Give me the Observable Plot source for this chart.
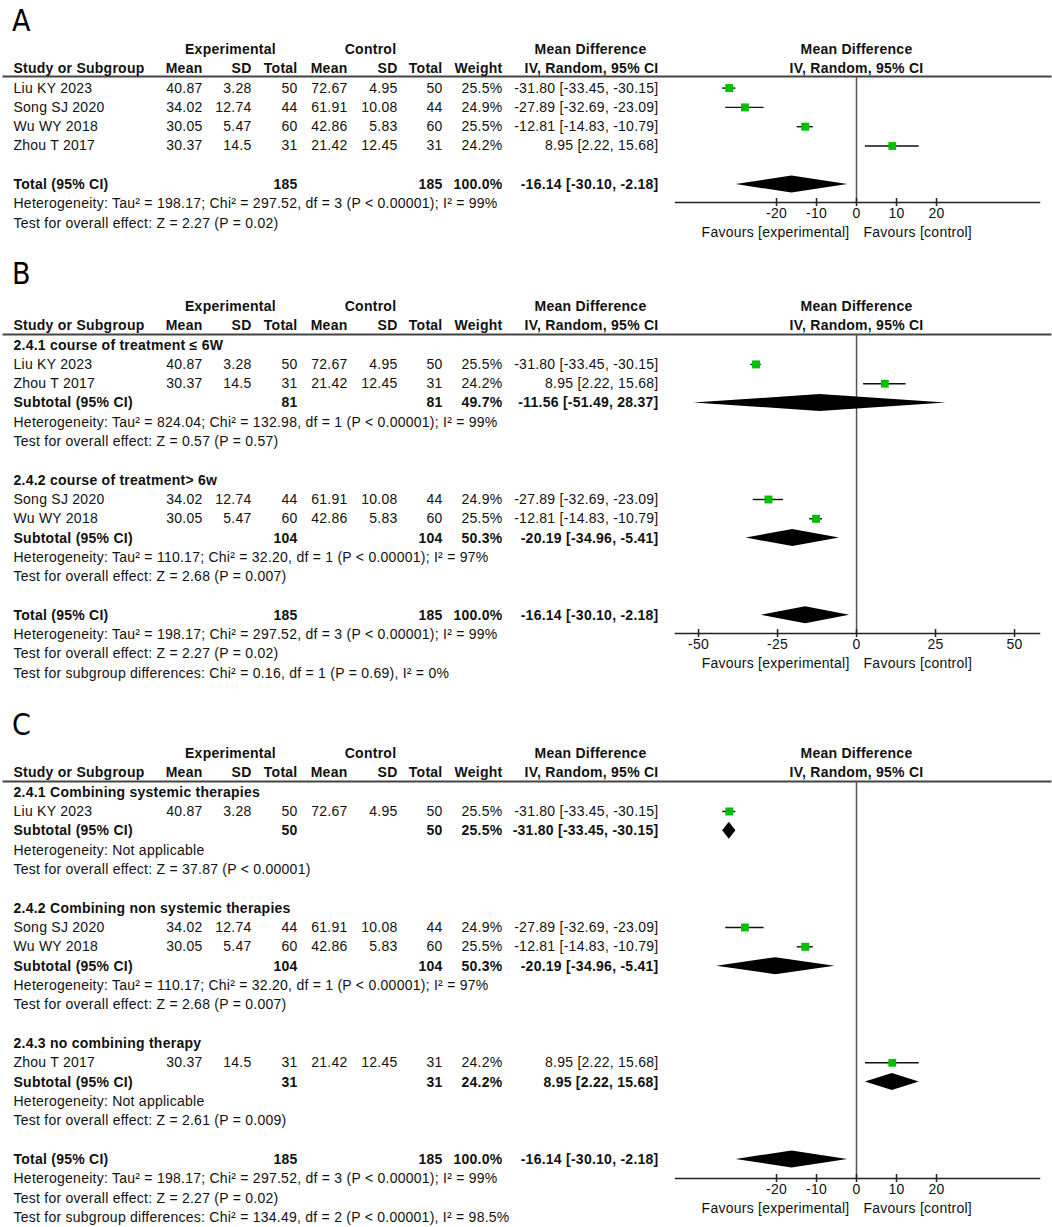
<!DOCTYPE html>
<html>
<head>
<meta charset="utf-8">
<script src="https://cdn.jsdelivr.net/npm/d3@7"></script>
<script src="https://cdn.jsdelivr.net/npm/@observablehq/plot@0.6"></script>
<style>
  html, body { margin: 0; padding: 0; background: #fff; }
  #chart { width: 1052px; height: 1227px; position: relative; overflow: hidden; }
  .panel { position: relative; }
  .letter { position: absolute; left: 12px; font-family: "Liberation Sans Narrow", "DejaVu Sans Condensed", "Liberation Sans", sans-serif; font-size: 30px; line-height: 30px; color: #000; }
  svg { display: block; overflow: visible; }
  svg text { letter-spacing: 0.25px; }
</style>
</head>
<body>
<div id="chart"></div>
<script>
// ---------------- data ----------------
const studies  = ["Liu KY 2023", "Song SJ 2020", "Wu WY 2018", "Zhou T 2017"];
const expMean  = [40.87, 34.02, 30.05, 30.37];
const expSD    = [3.28, 12.74, 5.47, 14.5];
const expN     = [50, 44, 60, 31];
const ctlMean  = [72.67, 61.91, 42.86, 21.42];
const ctlSD    = [4.95, 10.08, 5.83, 12.45];
const ctlN     = [50, 44, 60, 31];
const weight   = [25.5, 24.9, 25.5, 24.2];
const md       = [-31.80, -27.89, -12.81, 8.95];
const mdLo     = [-33.45, -32.69, -14.83, 2.22];
const mdHi     = [-30.15, -23.09, -10.79, 15.68];

// overall pooled
const totalNExp = 185, totalNCtl = 185, totalWeight = 100.0;
const totalMD = -16.14, totalLo = -30.10, totalHi = -2.18;
const totalHet = "Tau² = 198.17; Chi² = 297.52, df = 3 (P < 0.00001); I² = 99%";
const totalZ = "Z = 2.27 (P = 0.02)";

// panel A order
const orderA = [0, 1, 2, 3];

// panel B subgroups
const groupsB     = ["2.4.1 course of treatment ≤ 6W", "2.4.2 course of treatment> 6w"];
const membersB    = [[0, 3], [1, 2]];
const subNExpB    = [81, 104];
const subNCtlB    = [81, 104];
const subWeightB  = [49.7, 50.3];
const subMDB      = [-11.56, -20.19];
const subLoB      = [-51.49, -34.96];
const subHiB      = [28.37, -5.41];
const subHetB     = ["Tau² = 824.04; Chi² = 132.98, df = 1 (P < 0.00001); I² = 99%",
                     "Tau² = 110.17; Chi² = 32.20, df = 1 (P < 0.00001); I² = 97%"];
const subZB       = ["Z = 0.57 (P = 0.57)", "Z = 2.68 (P = 0.007)"];
const subgroupTestB = "Chi² = 0.16, df = 1 (P = 0.69), I² = 0%";

// panel C subgroups
const groupsC     = ["2.4.1 Combining systemic therapies", "2.4.2 Combining non systemic therapies", "2.4.3 no combining therapy"];
const membersC    = [[0], [1, 2], [3]];
const subNExpC    = [50, 104, 31];
const subNCtlC    = [50, 104, 31];
const subWeightC  = [25.5, 50.3, 24.2];
const subMDC      = [-31.80, -20.19, 8.95];
const subLoC      = [-33.45, -34.96, 2.22];
const subHiC      = [-30.15, -5.41, 15.68];
const subHetC     = [null, "Tau² = 110.17; Chi² = 32.20, df = 1 (P < 0.00001); I² = 97%", null];
const subZC       = ["Z = 37.87 (P < 0.00001)", "Z = 2.68 (P = 0.007)", "Z = 2.61 (P = 0.009)"];
const subgroupTestC = "Chi² = 134.49, df = 2 (P < 0.00001), I² = 98.5%";

const ticksAC = [-20, -10, 0, 10, 20];
const ticksB  = [-50, -25, 0, 25, 50];

const colHeads = ["Study or Subgroup", "Mean", "SD", "Total", "Mean", "SD", "Total", "Weight", "IV, Random, 95% CI"];

// ---------------- layout (styles / pixel layout) ----------------
const FONT = '"Liberation Sans", Arial, sans-serif';
const FS = 14;
const INK = "#111";
const GREEN = "#00c000";
const WIDTH = 1052, FRAME_L = 675, FRAME_R = 1039;
const colKeys = ["label", "eMean", "eSD", "eN", "cMean", "cSD", "cN", "weight", "ci"];
const colPx   = [13, 202, 251, 297, 347, 397, 442, 502, 658];
const colAnc  = ["start", "end", "end", "end", "end", "end", "end", "end", "end"];
const DIAMOND_HALF = 0.44; // in rows

// ---------------- row building ----------------
const f2 = v => v.toFixed(2);
const ciText = (m, l, h) => `${f2(m)} [${f2(l)}, ${f2(h)}]`;

function studyRow(k, i) {
  return {i, kind: "study", label: studies[k],
    eMean: String(expMean[k]), eSD: String(expSD[k]), eN: String(expN[k]),
    cMean: String(ctlMean[k]), cSD: String(ctlSD[k]), cN: String(ctlN[k]),
    weight: weight[k].toFixed(1) + "%", w: weight[k],
    ci: ciText(md[k], mdLo[k], mdHi[k]), md: md[k], lo: mdLo[k], hi: mdHi[k]};
}
function pooledRow(i, kind, label, nE, nC, w, m, l, h) {
  return {i, kind, label, eN: String(nE), cN: String(nC), weight: w.toFixed(1) + "%",
    ci: ciText(m, l, h), md: m, lo: l, hi: h};
}
function pushTotal(rows, i) {
  rows.push(pooledRow(i, "total", "Total (95% CI)", totalNExp, totalNCtl, totalWeight, totalMD, totalLo, totalHi));
  rows.push({i: i + 1, kind: "note", label: "Heterogeneity: " + totalHet});
  rows.push({i: i + 2, kind: "note", label: "Test for overall effect: " + totalZ});
}
function rowsOverall(order) {
  const rows = []; let i = 2;
  order.forEach(k => rows.push(studyRow(k, i++)));
  i++;
  pushTotal(rows, i);
  return rows;
}
function rowsGrouped(g) {
  const rows = []; let i = 2;
  g.labels.forEach((lab, j) => {
    rows.push({i: i++, kind: "group", label: lab});
    g.members[j].forEach(k => rows.push(studyRow(k, i++)));
    rows.push(pooledRow(i++, "sub", "Subtotal (95% CI)", g.nE[j], g.nC[j], g.w[j], g.md[j], g.lo[j], g.hi[j]));
    rows.push({i: i++, kind: "note", label: "Heterogeneity: " + (g.het[j] ?? "Not applicable")});
    rows.push({i: i++, kind: "note", label: "Test for overall effect: " + g.z[j]});
    i++;
  });
  pushTotal(rows, i);
  rows.push({i: i + 3, kind: "note", label: "Test for subgroup differences: " + g.test});
  return rows;
}

// ---------------- panel drawing ----------------
function panel(spec) {
  const {rows, H, row0, pitch, ruleY, axisY, domain, ticks} = spec;
  const frameH = axisY - ruleY;
  const bold = d => d.kind === "group" || d.kind === "sub" || d.kind === "total";
  const studyRows = rows.filter(d => d.kind === "study");
  const pooled = rows.filter(d => d.kind === "sub" || d.kind === "total");
  const diamonds = pooled.flatMap((d, n) => [
    {id: n, x: d.lo, y1: d.i, y2: d.i},
    {id: n, x: d.md, y1: d.i - DIAMOND_HALF, y2: d.i + DIAMOND_HALF},
    {id: n, x: d.hi, y1: d.i, y2: d.i}
  ]);

  const textMarks = [];
  colKeys.forEach((key, c) => {
    const data = rows.filter(d => d[key] != null);
    for (const b of [false, true]) {
      const sub = data.filter(d => bold(d) === b);
      if (!sub.length) continue;
      textMarks.push(Plot.text(sub, {
        y: "i", text: key, frameAnchor: "left", dx: colPx[c] - FRAME_L,
        textAnchor: colAnc[c], fontWeight: b ? "bold" : "normal", fontSize: FS, fill: INK
      }));
    }
  });
  // header rows
  const headTop = [
    {t: "Experimental", px: 230}, {t: "Control", px: 370}, {t: "Mean Difference", px: 590}
  ];
  headTop.forEach(h => textMarks.push(Plot.text([h.t], {
    y: () => 0, text: d => d, frameAnchor: "left", dx: h.px - FRAME_L, textAnchor: "middle",
    fontWeight: "bold", fontSize: FS, fill: INK})));
  colHeads.forEach((t, c) => textMarks.push(Plot.text([t], {
    y: () => 1, text: d => d, frameAnchor: "left", dx: colPx[c] - FRAME_L, textAnchor: colAnc[c],
    fontWeight: "bold", fontSize: FS, fill: INK})));
  textMarks.push(Plot.text(["Mean Difference"], {x: () => 0, y: () => 0, text: d => d, fontWeight: "bold", fontSize: FS, fill: INK}));
  textMarks.push(Plot.text(["IV, Random, 95% CI"], {x: () => 0, y: () => 1, text: d => d, fontWeight: "bold", fontSize: FS, fill: INK}));

  return Plot.plot({
    width: WIDTH, height: H,
    marginLeft: FRAME_L, marginRight: WIDTH - FRAME_R, marginTop: ruleY, marginBottom: H - axisY,
    x: {domain, axis: null},
    y: {domain: [0, 1], range: [row0, row0 + pitch], axis: null},
    r: {type: "sqrt", domain: [0, 25.5], range: [0, 4.5]},
    style: {fontFamily: FONT, fontSize: FS + "px", color: INK, background: "white", overflow: "visible"},
    marks: [
      Plot.frame({anchor: "top", stroke: "#444", strokeWidth: 2, insetLeft: -(FRAME_L - 3), insetRight: -(WIDTH - FRAME_R - 2)}),
      Plot.ruleX([0], {stroke: "#555", strokeWidth: 1.5}),
      Plot.frame({anchor: "bottom", stroke: "#222", strokeWidth: 1.5}),
      Plot.tickX(ticks, {x: d => d, insetTop: frameH - 4, insetBottom: -4, stroke: "#222", strokeWidth: 1.5}),
      Plot.text(ticks, {x: d => d, text: d => String(d), frameAnchor: "bottom", dy: 15, fontSize: FS, fill: INK}),
      Plot.text(["Favours [experimental]"], {x: () => 0, text: d => d, frameAnchor: "bottom", dy: 34, dx: -7, textAnchor: "end", fontSize: FS, fill: INK}),
      Plot.text(["Favours [control]"], {x: () => 0, text: d => d, frameAnchor: "bottom", dy: 34, dx: 7, textAnchor: "start", fontSize: FS, fill: INK}),
      Plot.ruleY(studyRows, {y: "i", x1: "lo", x2: "hi", stroke: "#111", strokeWidth: 1.4}),
      Plot.dot(studyRows, {x: "md", y: "i", r: "w", symbol: "square", fill: GREEN, stroke: "none"}),
      Plot.area(diamonds, {x1: "x", y1: "y1", y2: "y2", z: "id", fill: "#000", curve: "linear"}),
      ...textMarks
    ]
  });
}

function addPanel(letter, letterTop, H, svg) {
  const div = document.createElement("div");
  div.className = "panel";
  div.style.height = H + "px";
  const l = document.createElement("div");
  l.className = "letter";
  l.style.top = letterTop + "px";
  l.textContent = letter;
  div.appendChild(svg);
  div.appendChild(l);
  document.getElementById("chart").appendChild(div);
}

const groupSpecB = {labels: groupsB, members: membersB, nE: subNExpB, nC: subNCtlB, w: subWeightB,
  md: subMDB, lo: subLoB, hi: subHiB, het: subHetB, z: subZB, test: subgroupTestB};
const groupSpecC = {labels: groupsC, members: membersC, nE: subNExpC, nC: subNCtlC, w: subWeightC,
  md: subMDC, lo: subLoC, hi: subHiC, het: subHetC, z: subZC, test: subgroupTestC};

addPanel("A", 6, 245, panel({rows: rowsOverall(orderA), H: 245, row0: 49, pitch: 19.3, ruleY: 76, axisY: 202,
  domain: [-45.25, 45.75], ticks: ticksAC}));
addPanel("B", 14, 445, panel({rows: rowsGrouped(groupSpecB), H: 445, row0: 61, pitch: 19.3, ruleY: 89, axisY: 388,
  domain: [-57.3, 57.9], ticks: ticksB}));
addPanel("C", 20, 537, panel({rows: rowsGrouped(groupSpecC), H: 537, row0: 63, pitch: 19.33, ruleY: 91, axisY: 488,
  domain: [-45.25, 45.75], ticks: ticksAC}));
</script>
</body>
</html>
